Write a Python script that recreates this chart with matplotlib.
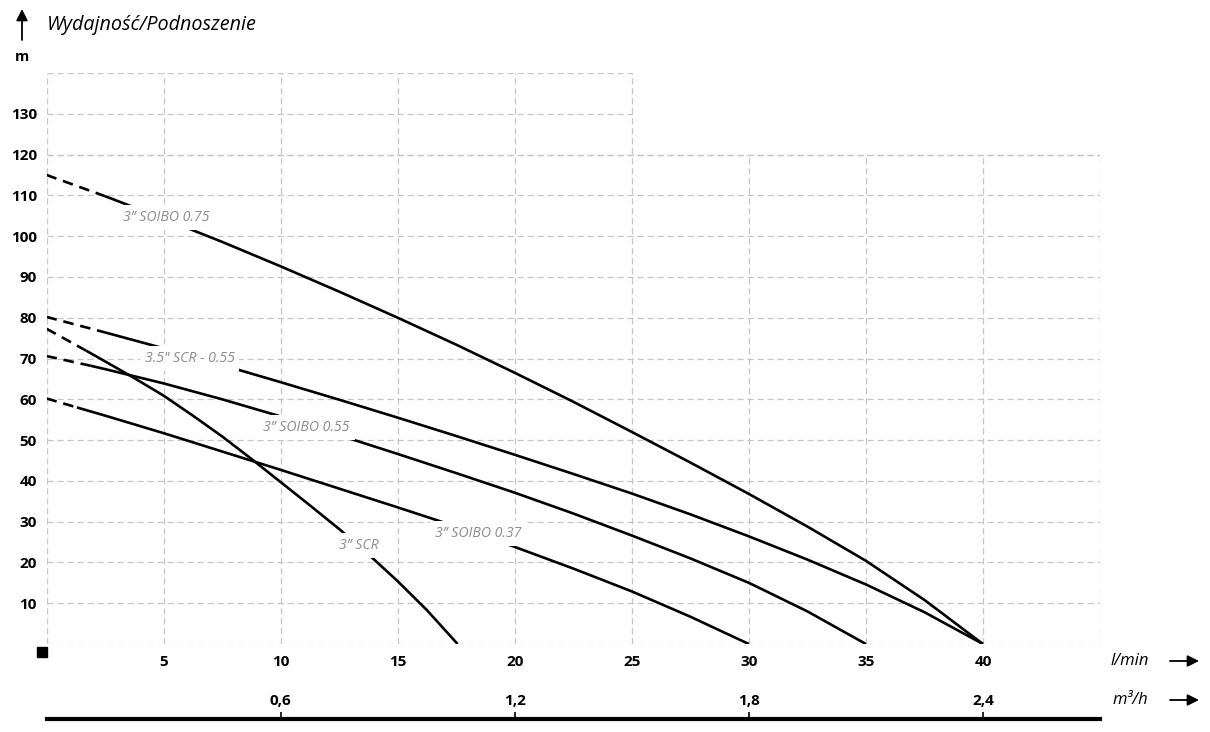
import numpy as np
import matplotlib
matplotlib.use("Agg")
import matplotlib.pyplot as plt
from matplotlib.patches import Rectangle

plt.rcParams['font.family'] = ['Open Sans', 'DejaVu Sans']

# wydajnosc l/min -> podnoszenie m
soibo075_x = [0, 2.5, 5, 7.5, 10, 12.5, 15, 17.5, 20, 22.5, 25, 27.5, 30, 32.5, 35, 37.5, 40]
soibo075_y = [115, 109.8, 104.3, 98.6, 92.6, 86.4, 80.0, 73.4, 66.5, 59.4, 52.0, 44.5,
              36.8, 28.8, 20.4, 10.8, 0]

scr35_x = [0, 2.5, 5, 7.5, 10, 12.5, 15, 17.5, 20, 22.5, 25, 27.5, 30, 32.5, 35, 37.5, 40]
scr35_y = [80.2, 76.4, 72.5, 68.4, 64.2, 59.9, 55.5, 51.0, 46.4, 41.7, 36.9, 31.8,
           26.4, 20.7, 14.6, 7.8, 0]

soibo055_x = [0, 1.9, 2.5, 5, 7.5, 10, 12.5, 15, 17.5, 20, 22.5, 25, 27.5, 30, 32.5, 35]
soibo055_y = [70.6, 68.2, 67.4, 63.9, 60.0, 55.8, 51.2, 46.6, 41.9, 37.1, 32.0, 26.6,
              21.0, 15.0, 8.0, 0]

soibo037_x = [0, 1.3, 2.5, 5, 7.5, 10, 12.5, 15, 17.5, 20, 22.5, 25, 27.5, 30]
soibo037_y = [60.2, 58.0, 56.0, 51.7, 47.2, 42.7, 38.1, 33.5, 28.8, 23.8, 18.5, 12.9, 6.7, 0]

scr3_x = [0, 1.7, 2.5, 3.75, 5, 6.25, 7.5, 8.75, 10, 11.25, 12.5, 13.75, 15, 16.25, 17.56]
scr3_y = [77.3, 71.9, 69.3, 65.2, 60.9, 56.0, 50.9, 45.4, 39.7, 34.0, 28.2, 22.0,
          15.4, 8.3, 0]

nazwy = ["3\u201d SOIBO 0.75", "3.5\" SCR - 0.55", "3\u201d SOIBO 0.55",
         "3\u201d SOIBO 0.37", "3\u201d SCR"]
etykiety_x = [5.13, 6.11, 11.11, 18.42, 13.36]
etykiety_y = [104.5, 70.0, 53.0, 27.1, 24.1]

lmin_ticks = [5, 10, 15, 20, 25, 30, 35, 40]
m3h_ticks = [0.6, 1.2, 1.8, 2.4]
h_ticks = [10, 20, 30, 40, 50, 60, 70, 80, 90, 100, 110, 120, 130]

W, H = 1210, 732
fig = plt.figure(figsize=(W / 100, H / 100), dpi=100)

x0px, x1px = 46.5, 1100
y0px, ytop = 644, 73
ax = fig.add_axes([x0px / W, (H - y0px) / H, (x1px - x0px) / W, (y0px - ytop) / H])
ax.set_xlim(0, 45)
ax.set_ylim(0, 140)
for s in ax.spines.values():
    s.set_visible(False)

# siatka (gora tylko do 25 l/min)
gc = "#c6c6c6"
gkw = dict(color=gc, lw=0.9, linestyle=(0, (5, 3)), zorder=1)
for yy in [0] + h_ticks[:-1] + [120]:
    ax.plot([0, 45], [yy, yy], **gkw)
for yy in [130, 140]:
    ax.plot([0, 25], [yy, yy], **gkw)
for xx in [0, 5, 10, 15, 20, 25]:
    ax.plot([xx, xx], [0, 140], **gkw)
for xx in [30, 35, 40, 45]:
    ax.plot([xx, xx], [0, 120], **gkw)

# pierwszy odcinek kazdej krzywej przerywany
krzywe = [(soibo075_x, soibo075_y), (scr35_x, scr35_y), (soibo055_x, soibo055_y),
          (soibo037_x, soibo037_y), (scr3_x, scr3_y)]
for kx, ky in krzywe:
    ax.plot(kx[:2], ky[:2], color="black", lw=1.9, dashes=(4, 2.6), zorder=3,
            solid_capstyle="butt", dash_capstyle="butt")
    ax.plot(kx[1:], ky[1:], color="black", lw=1.9, zorder=3, solid_capstyle="butt",
            solid_joinstyle="round")

for n, ex, ey in zip(nazwy, etykiety_x, etykiety_y):
    ax.text(ex, ey, n, color="#8c8c8c", fontsize=10.2, style="italic",
            ha="center", va="center", zorder=5,
            bbox=dict(boxstyle="square,pad=0.35", fc="white", ec="none"))

ax.set_xticks(lmin_ticks)
ax.set_xticklabels([str(t) for t in lmin_ticks], fontweight="bold", fontsize=11)
ax.set_yticks(h_ticks)
ax.set_yticklabels([str(t) for t in h_ticks], fontweight="bold", fontsize=11)
ax.tick_params(axis="x", length=0, pad=8)
ax.tick_params(axis="y", length=0, pad=7)

# druga os m3/h
ax2 = fig.add_axes([x0px / W, (H - 719) / H, (x1px - x0px) / W, 0.0001])
ax2.set_xlim(0, 45 * 0.06)
ax2.set_ylim(0, 1)
ax2.patch.set_visible(False)
for s in ["left", "right", "bottom"]:
    ax2.spines[s].set_visible(False)
ax2.spines["top"].set_linewidth(3)
ax2.set_yticks([])
ax2.xaxis.set_ticks_position("top")
ax2.set_xticks(m3h_ticks)
ax2.set_xticklabels([f"{t:.1f}".replace(".", ",") for t in m3h_ticks],
                    fontweight="bold", fontsize=11)
ax2.tick_params(axis="x", direction="out", length=5, width=1.2, pad=3)

# opisy
fig.text(47 / W, 1 - 25 / H, "Wydajność/Podnoszenie", fontsize=14.2, style="italic",
         ha="left", va="center")
fig.text(22 / W, 1 - 57 / H, "m", fontsize=10.5, fontweight="bold", ha="center", va="center")
fig.text(1111 / W, 1 - 661 / H, "l/min", fontsize=12, style="italic", ha="left", va="center")
fig.text(1113 / W, 1 - 700 / H, "m\u00b3/h", fontsize=12, style="italic", ha="left", va="center")

ak = dict(arrowstyle="-|>", color="black", lw=1.3, mutation_scale=17,
          shrinkA=0, shrinkB=0)
ax.annotate("", xy=(22 / W, 1 - 9 / H), xytext=(22 / W, 1 - 40 / H),
            xycoords="figure fraction", textcoords="figure fraction", arrowprops=ak)
for yy in [661, 700]:
    ax.annotate("", xy=(1199 / W, 1 - yy / H), xytext=(1170 / W, 1 - yy / H),
                xycoords="figure fraction", textcoords="figure fraction", arrowprops=ak)

fig.patches.append(Rectangle((37 / W, 1 - 657 / H), 10 / W, 10 / H,
                             transform=fig.transFigure, color="black"))

fig.savefig("out.png", dpi=100, facecolor="white")
